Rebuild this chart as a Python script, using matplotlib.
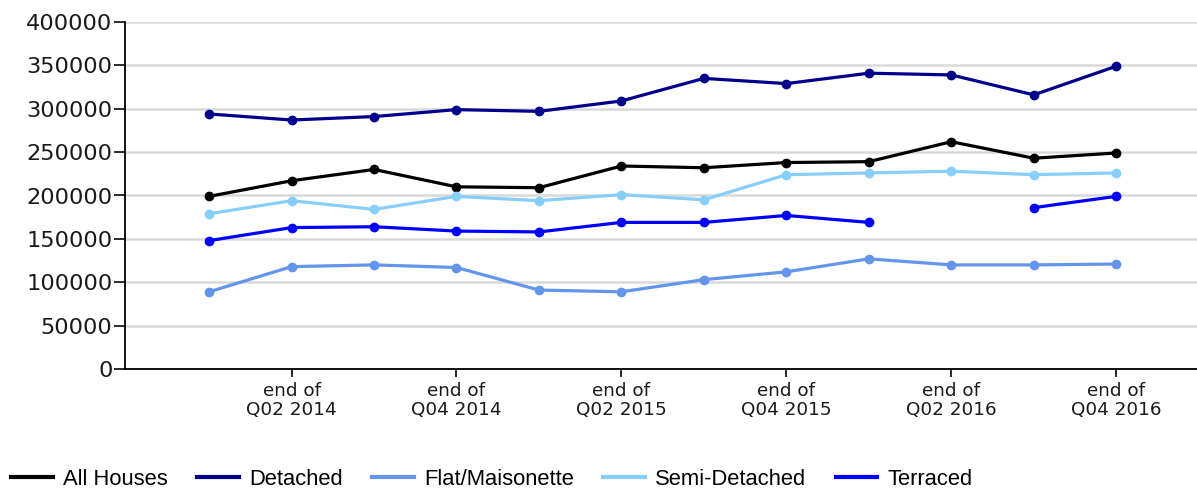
import numpy as np
import matplotlib
matplotlib.use("Agg")
import matplotlib.pyplot as plt

# Quarter-end house prices
quarters = ["end of\nQ01 2014", "end of\nQ02 2014", "end of\nQ03 2014", "end of\nQ04 2014",
            "end of\nQ01 2015", "end of\nQ02 2015", "end of\nQ03 2015", "end of\nQ04 2015",
            "end of\nQ01 2016", "end of\nQ02 2016", "end of\nQ03 2016", "end of\nQ04 2016"]

all_houses = [199000, 217000, 230000, 210000, 209000, 234000, 232000, 238000, 239000, 262000, 243000, 249000]
detached = [294000, 287000, 291000, 299000, 297000, 309000, 335000, 329000, 341000, 339000, 316000, 349000]
flat_maisonette = [89000, 118000, 120000, 117000, 91000, 89000, 103000, 112000, 127000, 120000, 120000, 121000]
semi_detached = [179000, 194000, 184000, 199000, 194000, 201000, 195000, 224000, 226000, 228000, 224000, 226000]
terraced = [148000, 163000, 164000, 159000, 158000, 169000, 169000, 177000, 169000, np.nan, 186000, 199000]

series = [
    ("All Houses", all_houses, "#000000"),
    ("Detached", detached, "#00008B"),
    ("Flat/Maisonette", flat_maisonette, "#6495ED"),
    ("Semi-Detached", semi_detached, "#87CEFA"),
    ("Terraced", terraced, "#0000FF"),
]

fig = plt.figure(figsize=(11.97, 4.90), dpi=100)
ax = fig.add_axes([125 / 1197, 1 - 369 / 490, 1 - 125 / 1197, (369 - 22) / 490])

x = np.arange(len(quarters))
for name, vals, color in series:
    ax.plot(x, np.array(vals, dtype=float), color=color, lw=2.3, marker="o",
            markersize=6, label=name, zorder=3)

ax.set_xlim(-1.02, 11.98)
ax.set_ylim(0, 400000)
ax.set_yticks(np.arange(0, 400001, 50000))
ax.set_xticks(x[1::2])
ax.set_xticklabels([quarters[i] for i in x[1::2]])

ax.grid(axis="y", color="#d9d9d9", lw=1.8, zorder=0)
ax.set_axisbelow(True)
for side in ("top", "right"):
    ax.spines[side].set_visible(False)
for side in ("left", "bottom"):
    ax.spines[side].set_color("#000000")
    ax.spines[side].set_linewidth(1.3)

ax.tick_params(axis="y", labelsize=16.2, length=8, width=1.3, pad=1, colors="#1a1a1a")
ax.tick_params(axis="x", labelsize=13.2, length=6, width=1.3, pad=3, colors="#1a1a1a")
for lbl in ax.get_xticklabels():
    lbl.set_linespacing(1.1)

leg = fig.legend(loc="center left", bbox_to_anchor=(-0.0042, 1 - 479 / 490), ncol=5, frameon=False,
                 prop={"family": "Liberation Sans", "size": 15.8}, handlelength=1.9,
                 handletextpad=0.45, columnspacing=1.35, borderaxespad=0.35)
for h in leg.legend_handles:
    h.set_marker("")
    h.set_linewidth(3)

fig.savefig("out.png", dpi=100)
